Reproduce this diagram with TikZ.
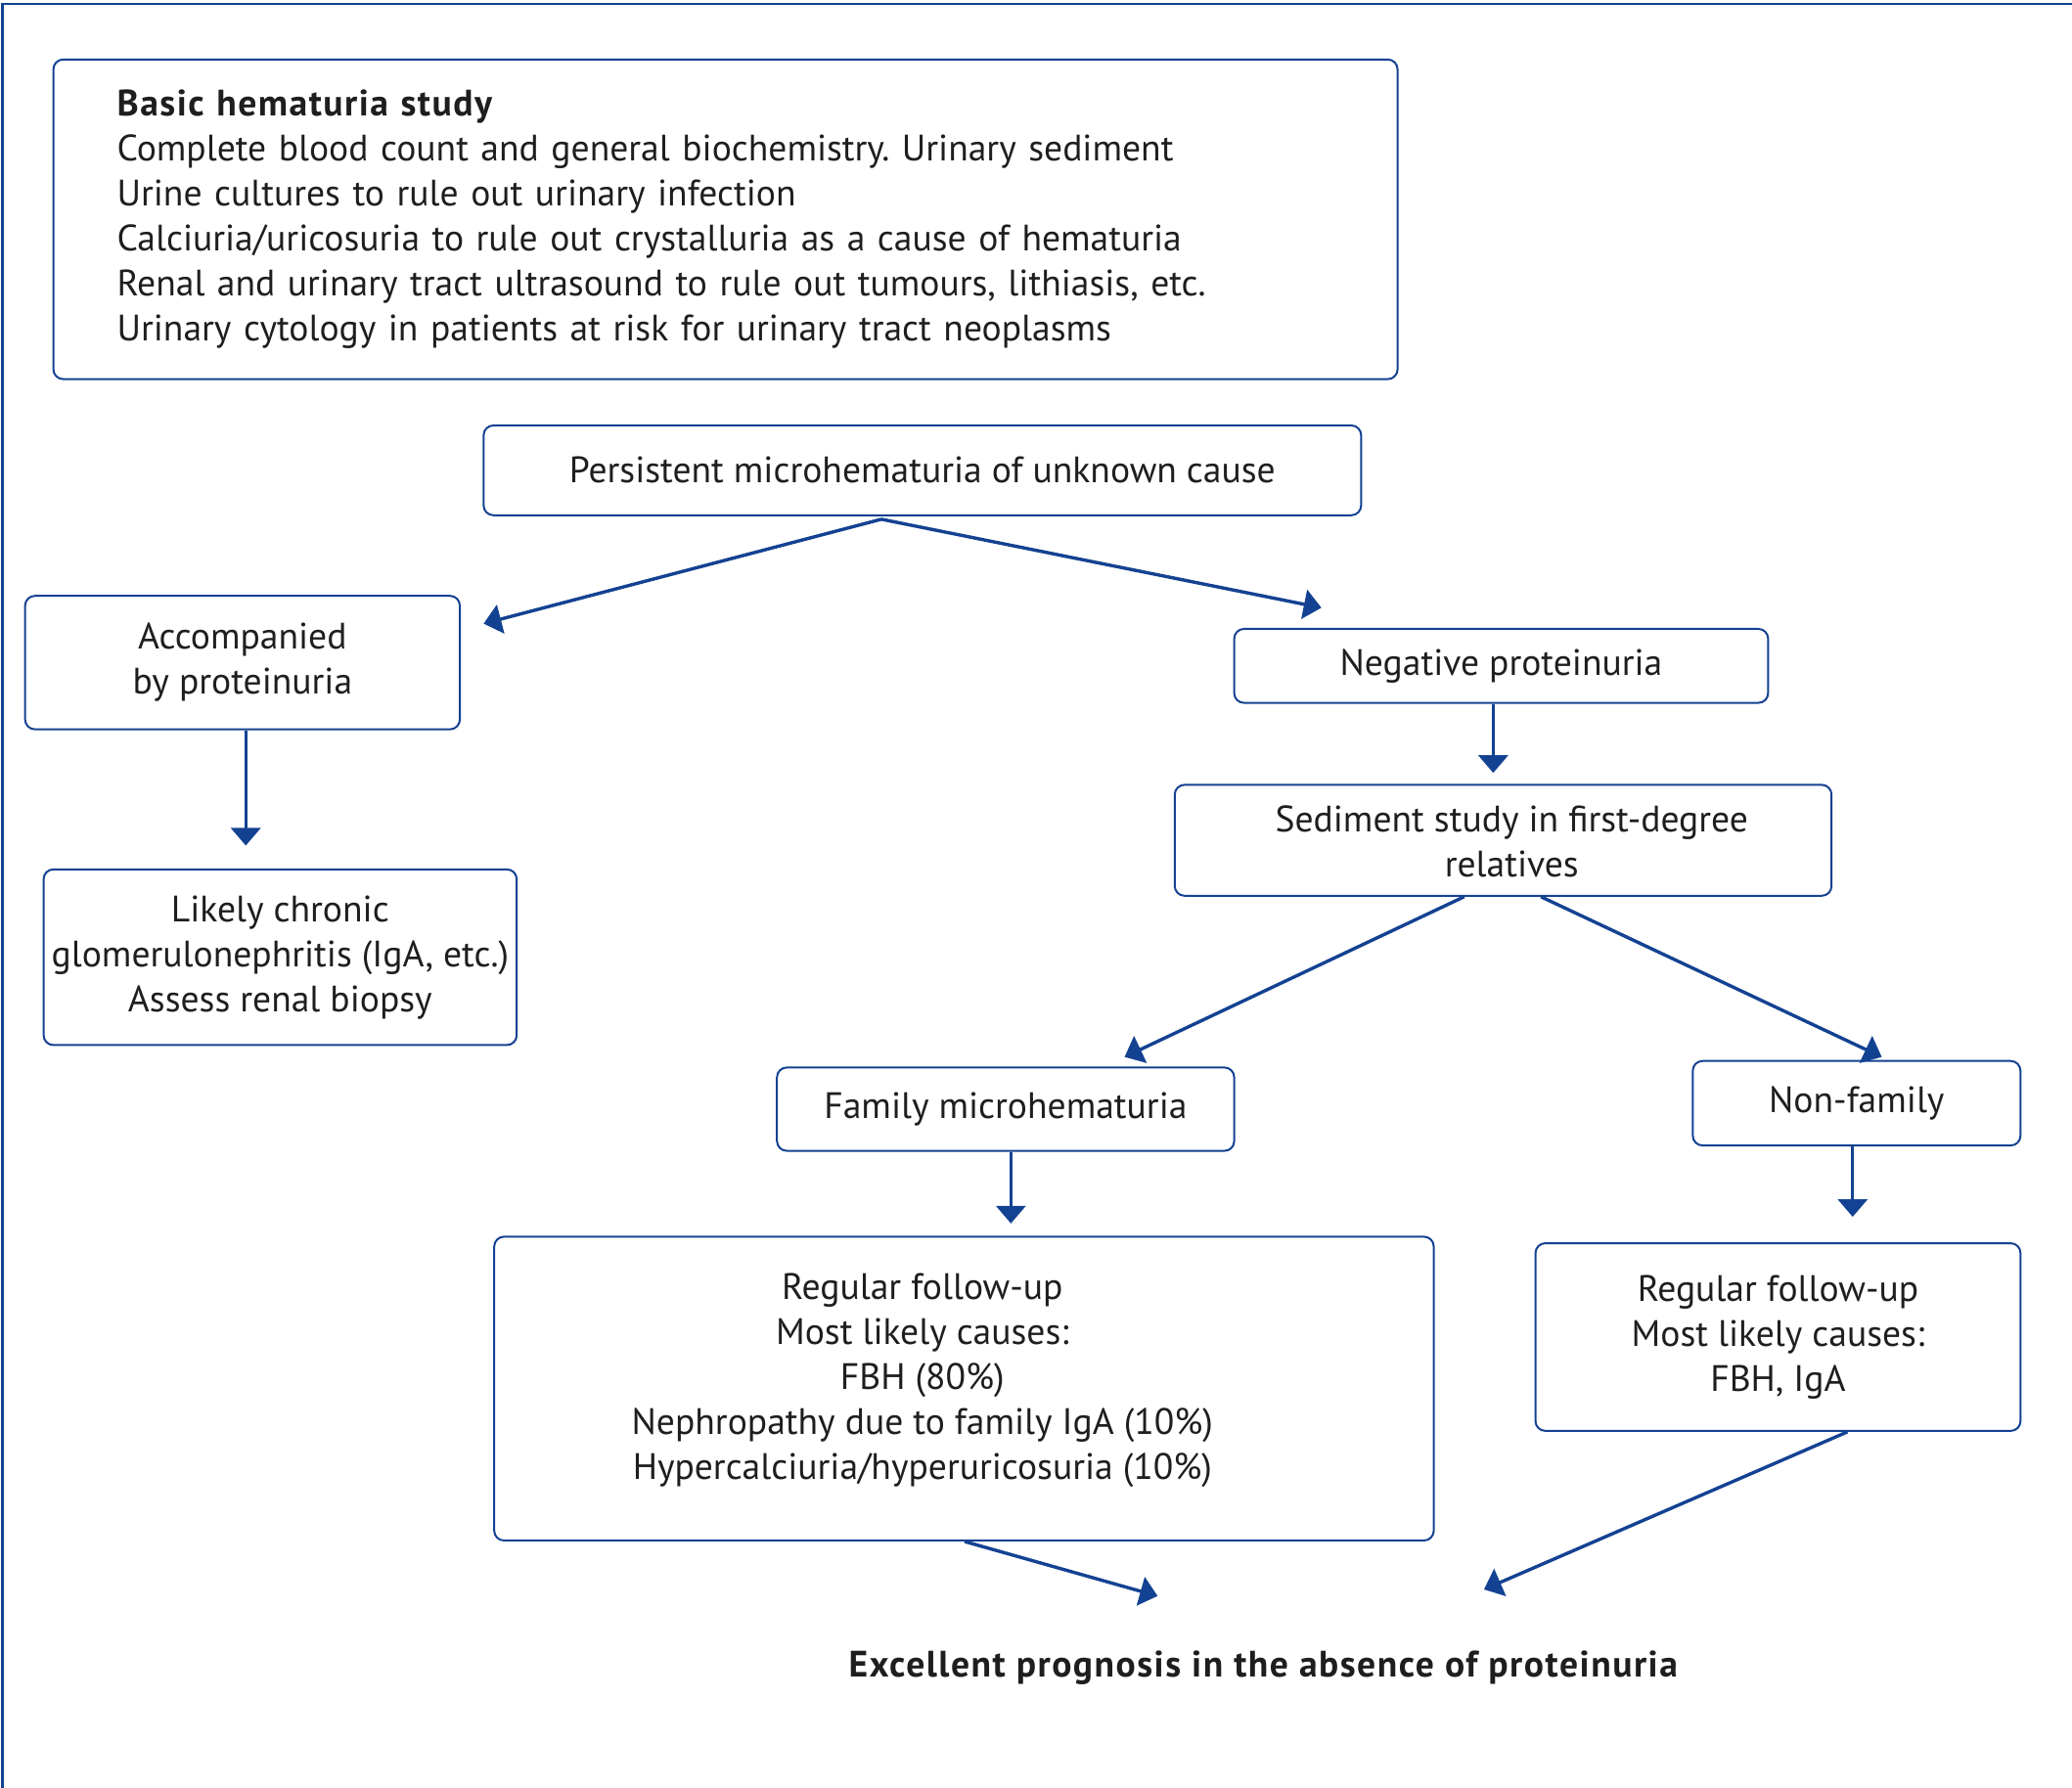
\documentclass[tikz,border=0pt]{standalone}
\usepackage{fontspec}
\setmainfont{PT Sans}[BoldFeatures={LetterSpace=4}]
\usetikzlibrary{arrows.meta}
\definecolor{hblue}{RGB}{20,66,146}
\definecolor{htext}{RGB}{30,30,30}
\frenchspacing
\begin{document}
\begin{tikzpicture}[x=0.6754pt,y=-0.6754pt]
        \tikzstyle{box}=[draw=hblue,line width=1pt,rounded corners=5pt,inner sep=0pt,align=center,text=htext,font=\fontsize{18.8pt}{23pt}\selectfont]
        \tikzstyle{txt}=[inner sep=0pt,align=center,text=htext,font=\fontsize{18.8pt}{23pt}\selectfont]
        \tikzstyle{arr}=[draw=hblue,line width=1.7pt,-{Triangle[width=15pt,length=9pt]},hblue]
        \useasboundingbox (0,0) rectangle (1568,1353);
        \draw[hblue,line width=1.3pt] (1568,3) -- (2,3) -- (2,1353);
       \begin{scope}
         \node [box,text width=622pt,minimum height=163.4pt,inner xsep=32.5pt,align=left] (study) at (549,166) {\textbf{Basic hematuria study}\\
           Complete blood count and general biochemistry. Urinary sediment\\
           Urine cultures to rule out urinary infection\\
           Calciuria/uricosuria to rule out crystalluria as a cause of hematuria\\
           Renal and urinary tract ultrasound to rule out tumours, lithiasis, etc.\\
           Urinary cytology in patients at risk for urinary tract neoplasms};
         \node [box,minimum width=448.5pt,minimum height=45.9pt] (persist) at (698,356) {Persistent microhematuria of unknown cause};
         \node [box,minimum width=222.2pt,minimum height=68.2pt] (accomp) at (183.5,501.5) {Accompanied\\by proteinuria};
         \node [box,minimum width=272.9pt,minimum height=37.8pt] (negprot) at (1136,504) {Negative proteinuria};
         \node [box,minimum width=335.7pt,minimum height=56.7pt] (sediment) at (1137.5,636) {};
         \node [txt] (sedtext) at (1144,637) {Sediment study in first-degree\\relatives};
         \node [box,minimum width=241.8pt,minimum height=89.8pt] (chronic) at (212,724.5) {Likely chronic\\glomerulonephritis (IgA, etc.)\\Assess renal biopsy};
         \node [box,minimum width=233.7pt,minimum height=42.6pt] (family) at (761,839.5) {Family microhematuria};
         \node [box,minimum width=167.5pt,minimum height=43.2pt] (nonfam) at (1405,835) {Non-family};
         \node [box,minimum width=480.2pt,minimum height=155.3pt] (famcause) at (729.5,1051) {};
         \node [txt] (famtext) at (698,1045) {Regular follow-up\\Most likely causes:\\FBH (80\%)\\Nephropathy due to family IgA (10\%)\\Hypercalciuria/hyperuricosuria (10\%)};
         \node [box,minimum width=247.9pt,minimum height=95.9pt] (nfcause) at (1345.5,1012) {Regular follow-up\\Most likely causes:\\FBH, IgA};
         \node [txt,font=\fontsize{18.8pt}{23pt}\selectfont\bfseries] (prog) at (956,1262) {Excellent prognosis in the absence of proteinuria};

         \coordinate (split) at (667,393);
         \coordinate (t1) at (366,472);
         \coordinate (t2) at (1000,460);
         \coordinate (t3) at (186,640);
         \coordinate (t4) at (1130,585);
         \coordinate (t5) at (851,800);
         \coordinate (t6) at (1424,800);
         \coordinate (t7) at (765,926);
         \coordinate (t8) at (1402,921);
         \coordinate (t9) at (876,1208);
         \coordinate (t10) at (1123,1203);

         \draw[arr] (split) -- (t1);
         \draw[arr] (split) -- (t2);
         \draw[arr] (accomp.south -| t3) -- (t3);
         \draw[arr] (negprot.south -| t4) -- (t4);
         \draw[arr] ([xshift=-19.9pt]sediment.south) -- (t5);
         \draw[arr] ([xshift=19.3pt]sediment.south) -- (t6);
         \draw[arr] (family.south -| t7) -- (t7);
         \draw[arr] (nonfam.south -| t8) -- (t8);
         \draw[arr] ([xshift=0.3pt]famcause.south) -- (t9);
         \draw[arr] ([xshift=35.5pt]nfcause.south) -- (t10);
        \end{scope}
      \end{tikzpicture}
\end{document}
